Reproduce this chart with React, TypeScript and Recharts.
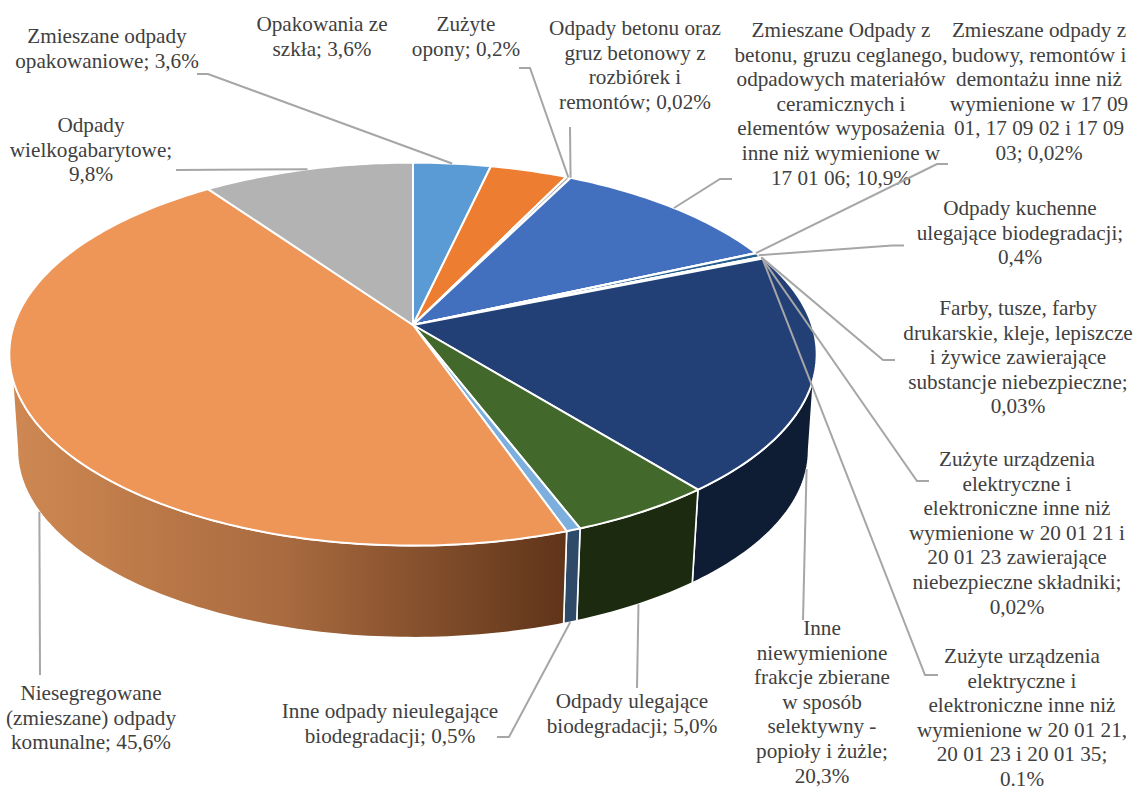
import React from "react";
import { PieChart, Pie } from "recharts";

const sliceNames = [
  "Zmieszane odpady opakowaniowe", "Opakowania ze szkła", "Zużyte opony",
  "Odpady betonu oraz gruz betonowy z rozbiórek i remontów",
  "Zmieszane Odpady z betonu, gruzu ceglanego, odpadowych materiałów ceramicznych i elementów wyposażenia inne niż wymienione w 17 01 06",
  "Zmieszane odpady z budowy, remontów i demontażu inne niż wymienione w 17 09 01, 17 09 02 i 17 09 03",
  "Odpady kuchenne ulegające biodegradacji",
  "Farby, tusze, farby drukarskie, kleje, lepiszcze i żywice zawierające substancje niebezpieczne",
  "Zużyte urządzenia elektryczne i elektroniczne inne niż wymienione w 20 01 21 i 20 01 23 zawierające niebezpieczne składniki",
  "Zużyte urządzenia elektryczne i elektroniczne inne niż wymienione w 20 01 21, 20 01 23 i 20 01 35",
  "Inne niewymienione frakcje zbierane w sposób selektywny - popioły i żużle",
  "Odpady ulegające biodegradacji",
  "Inne odpady nieulegające biodegradacji",
  "Niesegregowane (zmieszane) odpady komunalne",
  "Odpady wielkogabarytowe",
];
const sliceValues = [3.6, 3.6, 0.2, 0.02, 10.9, 0.02, 0.4, 0.03, 0.02, 0.1, 20.3, 5.0, 0.5, 45.6, 9.8];
const sliceColors = ["#5B9BD5", "#ED7D31", "#A5A5A5", "#FFC000", "#4270BF", "#70AD47", "#255E91", "#9E480E", "#636363", "#997300", "#234076", "#43682B", "#7CAFDD", "#EE9558", "#B3B3B3"];
const wallColors = ["#2D5A80", "#8E4B1D", "#636363", "#997300", "#29447A", "#43682B", "#16385A", "#5F2B08", "#3B3B3B", "#5B4500", "#0E1C34", "#1C2A0F", "#2E4A68", "url(#orangeWall)", "#6E6E6E"];

const labelLines = [
  ["Zmieszane odpady", "opakowaniowe; 3,6%"],
  ["Opakowania ze", "szkła; 3,6%"],
  ["Zużyte", "opony; 0,2%"],
  ["Odpady betonu oraz", "gruz betonowy z", "rozbiórek i", "remontów; 0,02%"],
  ["Zmieszane Odpady z", "betonu, gruzu ceglanego,", "odpadowych materiałów", "ceramicznych i", "elementów wyposażenia", "inne niż wymienione w", "17 01 06; 10,9%"],
  ["Zmieszane odpady z", "budowy, remontów i", "demontażu inne niż", "wymienione w 17 09", "01, 17 09 02 i 17 09", "03; 0,02%"],
  ["Odpady kuchenne", "ulegające biodegradacji;", "0,4%"],
  ["Farby, tusze, farby", "drukarskie, kleje, lepiszcze", "i żywice zawierające", "substancje niebezpieczne;", "0,03%"],
  ["Zużyte urządzenia", "elektryczne i", "elektroniczne inne niż", "wymienione w 20 01 21 i", "20 01 23 zawierające", "niebezpieczne składniki;", "0,02%"],
  ["Zużyte urządzenia", "elektryczne i", "elektroniczne inne niż", "wymienione w 20 01 21,", "20 01 23 i 20 01 35;", "0.1%"],
  ["Inne", "niewymienione", "frakcje zbierane", "w sposób", "selektywny -", "popioły i żużle;", "20,3%"],
  ["Odpady ulegające", "biodegradacji; 5,0%"],
  ["Inne odpady nieulegające", "biodegradacji; 0,5%"],
  ["Niesegregowane", "(zmieszane) odpady", "komunalne; 45,6%"],
  ["Odpady", "wielkogabarytowe;", "9,8%"],
];
// Text block placement: centre x and first baseline y of every label.
const labelX = [107, 322, 466, 635, 841, 1039, 1020, 1018, 1017, 1022, 822, 632, 390, 91, 91];
const labelY = [43, 31, 31, 35, 37, 37, 215, 315, 466, 663, 635, 708, 718, 700, 132];
// Leader routes, from the slice outwards; an empty route means no leader.
const leaderRoutes: number[][][] = [
  [[208, 74], [197, 74]],
  [],
  [[530, 68], [519, 68]],
  [[570, 127]],
  [[720, 179], [732, 179]],
  [[937, 164], [948, 164]],
  [[892, 245.5], [904, 245.5]],
  [[883, 360], [895, 360]],
  [[917, 481], [929, 481]],
  [[925, 675], [938, 675]],
  [[803, 620]],
  [[637, 688]],
  [[509, 737], [497, 737]],
  [[40, 675]],
  [[176, 170]],
];

const chartData = sliceNames.map((name, i) => ({ name, value: sliceValues[i], fill: sliceColors[i], wall: wallColors[i] }));

// Perspective of the disc: unit circle -> screen offset from the apex.
const SQUASH = 186.6 / 398;
const TILT = 0.152;
const WALL_SCALE = 0.98;
const WALL_DROP = 96.5;
const VISIBLE_FROM = 105.7;
const VISIBLE_TO = 254.3;
const EXTREME_FROM = 98.7;
const EXTREME_TO = 261.3;
const rad = Math.PI / 180;

function topPoint(cx: number, cy: number, r: number, fromTop: number) {
  const u = Math.sin(fromTop * rad);
  const v = Math.cos(fromTop * rad);
  const d = 1 + TILT * v;
  return { x: cx + (r * u) / d, y: cy - (r * SQUASH * v) / d };
}
function bottomPoint(cx: number, cy: number, r: number, fromTop: number) {
  const p = topPoint(cx, cy, r, fromTop);
  return { x: cx + (p.x - cx) * WALL_SCALE, y: cy + (p.y - cy) * WALL_SCALE + WALL_DROP };
}
function samples(a: number, b: number) {
  const n = Math.max(2, Math.ceil(Math.abs(b - a)));
  return Array.from({ length: n + 1 }, (_, i) => a + ((b - a) * i) / n);
}

function TopSlice(props: any) {
  const { cx, cy, outerRadius, startAngle, endAngle, fill } = props;
  const a = 90 - startAngle;
  const b = 90 - endAngle;
  const pts = samples(a, b).map((t) => topPoint(cx, cy, outerRadius, t));
  const d = `M${cx},${cy} ` + pts.map((p) => `L${p.x.toFixed(2)},${p.y.toFixed(2)}`).join(" ") + " Z";
  return <path d={d} fill={fill} stroke="#fff" strokeWidth={2} strokeLinejoin="round" />;
}

function WallSlice(props: any) {
  const { cx, cy, outerRadius, startAngle, endAngle, payload } = props;
  const a = Math.max(90 - startAngle, VISIBLE_FROM);
  const b = Math.min(90 - endAngle, VISIBLE_TO);
  if (b <= a) return <g />;
  const low0 = a === VISIBLE_FROM ? EXTREME_FROM : a;
  const low1 = b === VISIBLE_TO ? EXTREME_TO : b;
  const upper = samples(a, b).map((t) => topPoint(cx, cy, outerRadius, t));
  const lower = samples(low1, low0).map((t) => bottomPoint(cx, cy, outerRadius, t));
  const d = [...upper, ...lower].map((p, i) => `${i ? "L" : "M"}${p.x.toFixed(2)},${p.y.toFixed(2)}`).join(" ") + " Z";
  return (
    <g>
      <defs>
        <linearGradient id="orangeWall" gradientUnits="userSpaceOnUse" x1={10} y1={0} x2={566} y2={0}>
          <stop offset="0" stopColor="#CF8852" />
          <stop offset="0.5" stopColor="#A86A3F" />
          <stop offset="1" stopColor="#5F3419" />
        </linearGradient>
      </defs>
      <path d={d} fill={payload.wall ?? props.wall} stroke="#fff" strokeWidth={1.6} strokeLinejoin="round" />
    </g>
  );
}

function SliceLabel(props: any) {
  const { cx, cy, outerRadius, midAngle, index } = props;
  const t = 90 - midAngle;
  const onWall = t > VISIBLE_FROM - 3 && t < VISIBLE_TO;
  const start = onWall ? bottomPoint(cx, cy, outerRadius, t) : topPoint(cx, cy, outerRadius, t);
  const route = leaderRoutes[index];
  const lines = labelLines[index];
  return (
    <g>
      {route.length > 0 && (
        <polyline
          points={[[start.x, start.y], ...route].map((p) => p.join(",")).join(" ")}
          fill="none"
          stroke="#A6A6A6"
          strokeWidth={2}
        />
      )}
      <text textAnchor="middle" fontFamily="'Liberation Serif'" fontSize={21.2} fill="#404040">
        {lines.map((line, i) => (
          <tspan key={i} x={labelX[index]} y={labelY[index] + i * 24.6}>
            {line}
          </tspan>
        ))}
      </text>
    </g>
  );
}

export default function App() {
  return (
    <div style={{ position: "absolute", left: 0, top: 0, width: 1134, height: 787, background: "#fff" }}>
      <PieChart width={1134} height={787} margin={{ top: 0, right: 0, bottom: 0, left: 0 }}>
        <Pie
          data={chartData}
          dataKey="value"
          nameKey="name"
          cx={413}
          cy={325}
          outerRadius={399}
          startAngle={90}
          endAngle={-270}
          isAnimationActive={false}
          shape={WallSlice}
          label={false}
          labelLine={false}
        />
        <Pie
          data={chartData}
          dataKey="value"
          nameKey="name"
          cx={413}
          cy={325}
          outerRadius={399}
          startAngle={90}
          endAngle={-270}
          isAnimationActive={false}
          shape={TopSlice}
          label={SliceLabel}
          labelLine={false}
        />
      </PieChart>
    </div>
  );
}
